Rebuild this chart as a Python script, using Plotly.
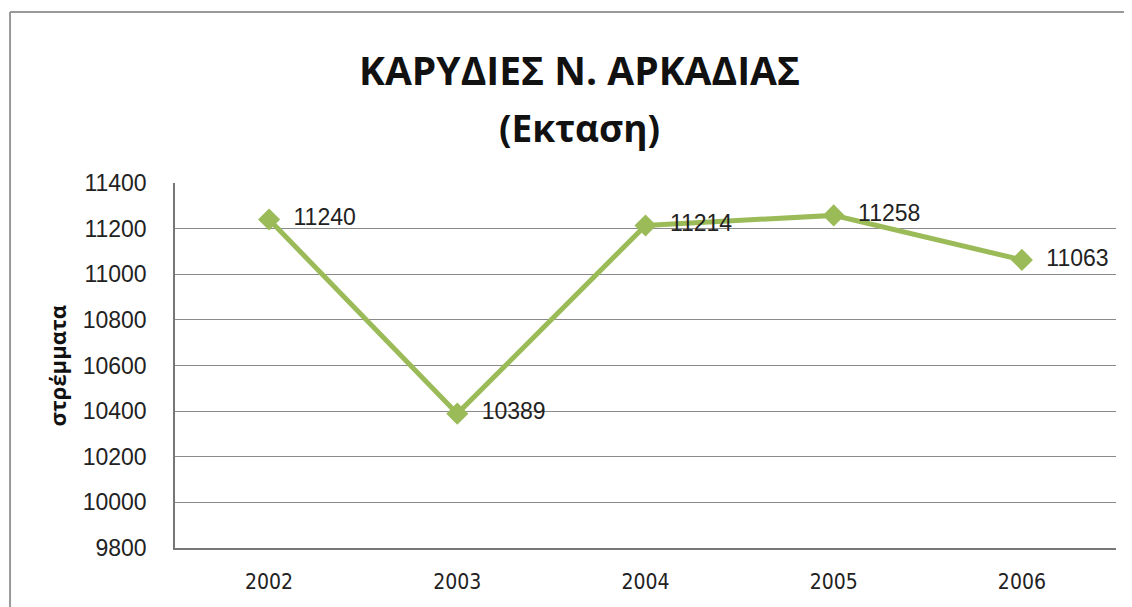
import plotly.graph_objects as go

years = ["2002", "2003", "2004", "2005", "2006"]
area = [11240, 10389, 11214, 11258, 11063]
y_ticks = [9800, 10000, 10200, 10400, 10600, 10800, 11000, 11200, 11400]

title_line1 = "ΚΑΡΥΔΙΕΣ Ν. ΑΡΚΑΔΙΑΣ"
title_line2 = "(Εκταση)"
y_title = "στρέμματα"

line_color = "#9BBB59"

fig = go.Figure()
fig.add_trace(go.Scatter(
    x=years, y=area,
    mode="lines+markers+text",
    line=dict(color=line_color, width=5),
    marker=dict(symbol="diamond", size=17, color=line_color),
    text=["  " + str(v) for v in area],
    textposition="middle right",
    textfont=dict(family="Liberation Sans", size=23, color="#222222"),
    cliponaxis=False,
    showlegend=False,
))

fig.update_layout(
    width=1132, height=607,
    margin=dict(l=167, r=24, t=175, b=67),
    paper_bgcolor="white",
    plot_bgcolor="white",
    xaxis=dict(
        type="category",
        range=[-0.5, 4.5],
        automargin=False,
        showgrid=False,
        showline=True, linecolor="#777777", linewidth=1.5,
        ticks="",
        tickfont=dict(family="Liberation Sans Narrow, DejaVu Sans Condensed, Liberation Sans", size=21, color="#222222"),
        ticklabelstandoff=14,
    ),
    yaxis=dict(
        range=[9800, 11400],
        automargin=False,
        tickvals=y_ticks,
        ticktext=[str(v) for v in y_ticks],
        showgrid=True, gridcolor="#8a8a8a", gridwidth=1.2,
        showline=True, linecolor="#777777", linewidth=1.5,
        zeroline=False,
        ticks="",
        tickfont=dict(family="Liberation Sans", size=23, color="#222222"),
        ticklabelstandoff=22,
    ),
)

# title lines
fig.add_annotation(text=title_line1, xref="paper", yref="paper",
                   x=0.43, y=1.31, xanchor="center", yanchor="middle",
                   showarrow=False,
                   font=dict(family="Open Sans", size=39, color="#111111", weight="bold"))
fig.add_annotation(text=title_line2, xref="paper", yref="paper",
                   x=0.43, y=1.151, xanchor="center", yanchor="middle",
                   showarrow=False,
                   font=dict(family="Open Sans", size=37, color="#111111", weight="bold"))
# y axis title
fig.add_annotation(text=y_title, xref="paper", yref="paper",
                   x=-0.1255, y=0.5, xanchor="center", yanchor="middle",
                   textangle=-90, showarrow=False,
                   font=dict(family="Open Sans", size=22, color="#111111", weight="bold"))

# outer chart frame (left and top edges visible in reference)
fig.add_shape(type="line", xref="paper", yref="paper",
              x0=-0.1753, x1=-0.1753, y0=-0.2, y1=1.4685,
              line=dict(color="#999999", width=2))
fig.add_shape(type="line", xref="paper", yref="paper",
              x0=-0.1753, x1=1.03, y0=1.4685, y1=1.4685,
              line=dict(color="#999999", width=2))

fig.write_html("out.html")
